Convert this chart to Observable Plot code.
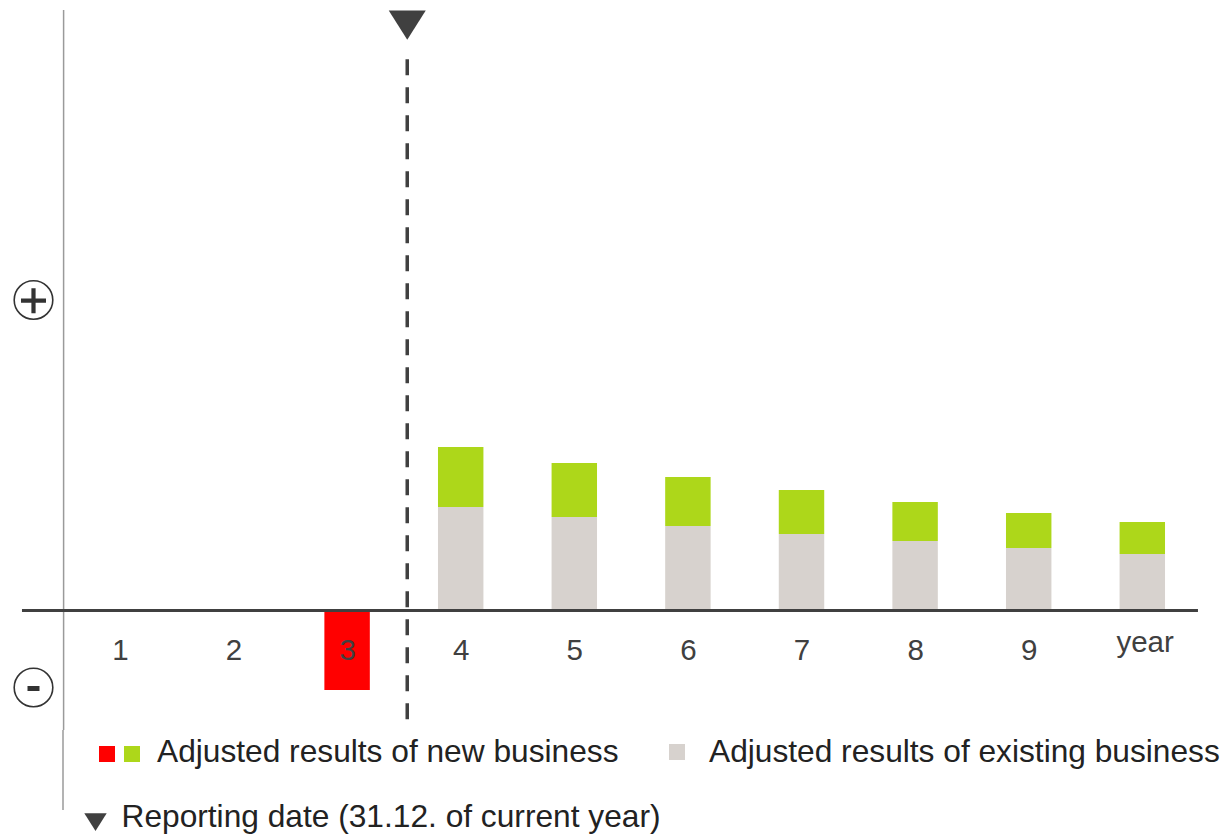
<!DOCTYPE html>
<html>
<head>
<meta charset="utf-8">
<script src="https://cdn.jsdelivr.net/npm/d3@7"></script>
<script src="https://cdn.jsdelivr.net/npm/@observablehq/plot@0.6"></script>
<style>
  html, body { margin: 0; padding: 0; background: #fff; }
  #chart svg { display: block; }
  #legend { display: block; }
</style>
</head>
<body>
<div id="chart"></div>
<svg id="legend" width="1226" height="106"></svg>
<script>
// Periods along the horizontal axis
const periods = ["1", "2", "3", "4", "5", "6", "7", "8", "9", "year"];
// Adjusted results of existing business per period
const existing = [0, 0, 0, 103, 93, 84, 76, 69, 62, 56];
// Adjusted results of new business per period (negative = loss)
const newBusiness = [0, 0, -80, 60, 54, 49, 44, 39, 35, 32];
// Position of the reporting date between periods 3 and 4
const reportingDate = [3.525];

const GREY = "#d7d2ce";
const GREEN = "#add71a";
const RED = "#ff0000";
const DARK = "#404040";
const FONT = "'Liberation Sans', Arial, Helvetica, sans-serif";

const rows = periods.map((p, i) => ({
  period: p,
  pos: i + 1,
  existing: existing[i],
  nb: newBusiness[i]
}));

const half = 0.2; // half bar width in period units

// custom symbols
const downTriangle = {
  draw(ctx, size) {
    const r = Math.sqrt(size / Math.PI), h = r * 0.79;
    ctx.moveTo(-r, -h); ctx.lineTo(r, -h); ctx.lineTo(0, h); ctx.closePath();
  }
};
const plusSign = {
  draw(ctx, size) {
    const r = Math.sqrt(size / Math.PI);
    ctx.moveTo(-r, 0); ctx.lineTo(r, 0);
    ctx.moveTo(0, -r); ctx.lineTo(0, r);
  }
};
const minusSign = {
  draw(ctx, size) {
    const r = Math.sqrt(size / Math.PI);
    ctx.moveTo(-r, 0); ctx.lineTo(r, 0);
  }
};

const W = 1226, H = 730;
// one period = 113.6px, period 1 centred at 119.9px
const step = 113.6, x0 = 119.9;
const xDomain = [1 - x0 / step, 1 + (W - x0) / step];
const yDomain = [-120, 610];

const chart = Plot.plot({
  width: W,
  height: H,
  marginTop: 0, marginBottom: 0, marginLeft: 0, marginRight: 0,
  style: { fontFamily: FONT, background: "#fff" },
  x: { type: "linear", domain: xDomain, axis: null },
  y: { type: "linear", domain: yDomain, axis: null },
  marks: [
    // vertical value axis
    Plot.ruleX([0.5], { y1: yDomain[0], y2: 600, stroke: "#9a9a9a", strokeWidth: 1.5 }),
    // existing business (grey)
    Plot.rect(rows.filter(d => d.existing > 0), {
      x1: d => d.pos - half, x2: d => d.pos + half,
      y1: 0, y2: "existing", fill: GREY
    }),
    // new business, positive part stacked on existing (green)
    Plot.rect(rows.filter(d => d.nb > 0), {
      x1: d => d.pos - half, x2: d => d.pos + half,
      y1: "existing", y2: d => d.existing + d.nb, fill: GREEN
    }),
    // new business, negative result (red)
    Plot.rect(rows.filter(d => d.nb < 0), {
      x1: d => d.pos - half, x2: d => d.pos + half,
      y1: 0, y2: "nb", fill: RED
    }),
    // zero line
    Plot.ruleY([0], { x1: 0.138, x2: 10.49, stroke: DARK, strokeWidth: 3 }),
    // reporting date
    Plot.ruleX(reportingDate, {
      y1: 562.7, y2: -109.3, stroke: DARK, strokeWidth: 3.5,
      strokeDasharray: "16,12", strokeDashoffset: 16
    }),
    Plot.dot(reportingDate, { x: d => d, y: 585.3, r: 18.5, symbol: downTriangle, fill: DARK, stroke: "none" }),
    // period labels
    Plot.text(rows.filter(d => d.period !== "year"), {
      x: "pos", y: 0, text: "period", dy: 40.5, fontSize: 29.5, fill: DARK
    }),
    Plot.text(rows.filter(d => d.period === "year"), {
      x: d => d.pos + 0.02, y: 0, text: "period", dy: 32.5, fontSize: 29.5, fill: DARK
    }),
    // plus / minus markers on the value axis
    Plot.dot(["+"], { x: 0.235, y: 310.5, r: 19.3, fill: "#fff", stroke: "#333", strokeWidth: 1.6 }),
    Plot.dot(["+"], { x: 0.235, y: 309.8, r: 12.5, symbol: plusSign, stroke: "#333", strokeWidth: 4.2 }),
    Plot.dot(["-"], { x: 0.235, y: -77, r: 19.3, fill: "#fff", stroke: "#333", strokeWidth: 1.6 }),
    Plot.dot(["-"], { x: 0.235, y: -78, r: 6, symbol: minusSign, stroke: "#333", strokeWidth: 5 })
  ]
});
document.getElementById("chart").appendChild(chart);

// legend below the chart
const lg = d3.select("#legend").style("font-family", FONT);
// value axis continues down beside the legend
lg.append("line").attr("x1", 63).attr("x2", 63).attr("y1", 0).attr("y2", 80)
  .attr("stroke", "#9a9a9a").attr("stroke-width", 1.5);

lg.append("rect").attr("x", 99).attr("y", 16).attr("width", 16).attr("height", 16).attr("fill", RED);
lg.append("rect").attr("x", 124).attr("y", 16).attr("width", 16).attr("height", 16).attr("fill", GREEN);
lg.append("text").attr("x", 157).attr("y", 31.7).attr("font-size", 31.7).attr("fill", "#222")
  .text("Adjusted results of new business");

lg.append("rect").attr("x", 669).attr("y", 14).attr("width", 16).attr("height", 16).attr("fill", GREY);
lg.append("text").attr("x", 709).attr("y", 31.7).attr("font-size", 31.7).attr("fill", "#222")
  .text("Adjusted results of existing business");

lg.append("path").attr("d", "M84.3,83.3L106.7,83.3L95.5,101Z").attr("fill", DARK);
lg.append("text").attr("x", 121.5).attr("y", 97).attr("font-size", 31.7).attr("fill", "#222")
  .text("Reporting date (31.12. of current year)");
</script>
</body>
</html>
